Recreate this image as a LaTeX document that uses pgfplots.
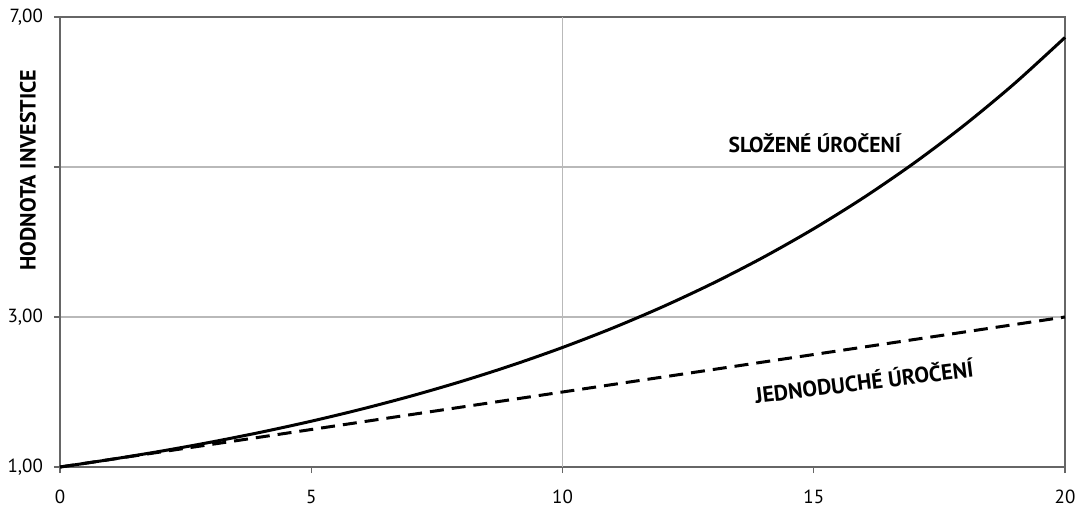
\documentclass[border=0pt]{standalone}
\usepackage{pgfplots}
\pgfplotsset{compat=1.18}
\usepackage{fontspec}
\setmainfont{PT Sans}
\begin{document}
\begin{tikzpicture}
\begin{axis}[
  name=ax,
  scale only axis,
  width=502.5pt, height=225pt,
  xmin=0, xmax=20, ymin=1, ymax=7,
  xtick={0,5,10,15,20},
  ytick={1,3,5,7},
  yticklabels={{1,00},{3,00},{},{7,00}},
  tick pos=left,
  extra x ticks={10},
  extra x tick labels={},
  extra x tick style={xmajorgrids=true, major tick length=0pt},
  ymajorgrids=true,
  grid style={gray!55, line width=0.6pt},
  axis line style={gray!80!black, line width=0.8pt},
  tick align=outside,
  major tick length=3pt,
  tick style={gray!80!black, line width=0.6pt},
  x tick label style={font=\fontsize{9.5}{11}\selectfont, yshift=-5pt},
  y tick label style={font=\fontsize{9.5}{11}\selectfont, xshift=-2pt},
  /pgf/number format/assume math mode=true,
  clip=false,
]
\addplot[black, line width=1.5pt, smooth] coordinates {
(0,1.0000) (1,1.1000) (2,1.2100) (3,1.3310) (4,1.4641) (5,1.6105)
(6,1.7716) (7,1.9487) (8,2.1436) (9,2.3579) (10,2.5937) (11,2.8531)
(12,3.1384) (13,3.4523) (14,3.7975) (15,4.1772) (16,4.5950) (17,5.0545)
(18,5.5599) (19,6.1159) (20,6.7275)
};
\addplot[black, line width=1.5pt, dash pattern=on 7pt off 4pt] coordinates {
(0,1.0) (20,3.0)
};
\node[font=\bfseries\fontsize{10.8}{12}\selectfont] at (axis cs:15.02,5.32) {SLOŽENÉ ÚROČENÍ};
\node[font=\bfseries\fontsize{11}{12}\selectfont, rotate=7] at (axis cs:16.0,2.15) {JEDNODUCHÉ ÚROČENÍ};
\node[font=\bfseries\fontsize{11}{12}\selectfont, rotate=90] at ([xshift=-16pt]rel axis cs:0,0.66) {HODNOTA INVESTICE};
\end{axis}
\pgfresetboundingbox
\path ([xshift=-30pt,yshift=-21pt]ax.south west) rectangle ([xshift=5pt,yshift=8.5pt]ax.north east);
\end{tikzpicture}
\end{document}
